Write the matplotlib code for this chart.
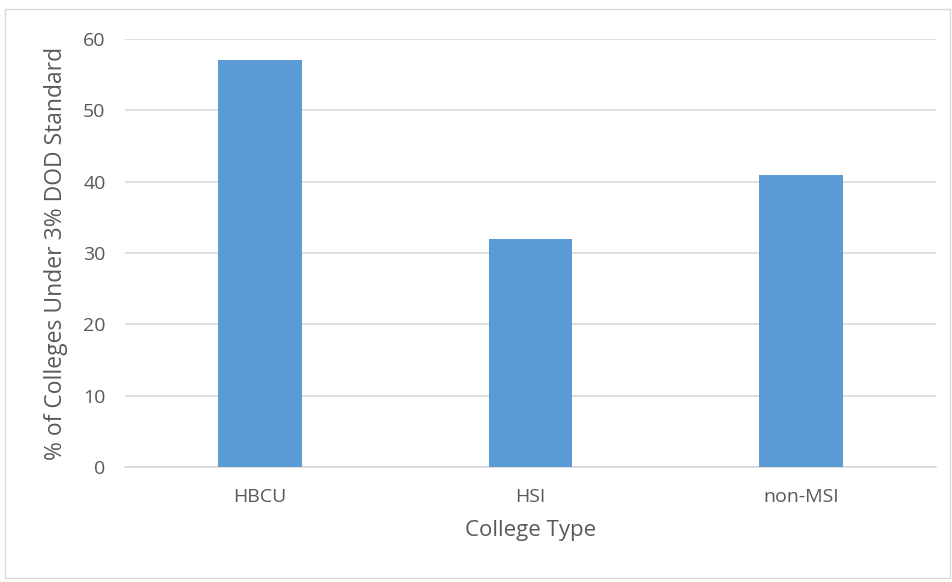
import matplotlib.pyplot as plt
from matplotlib.patches import Rectangle

categories = ["HBCU", "HSI", "non-MSI"]
values = [57, 32, 41]
yticks = [0, 10, 20, 30, 40, 50, 60]

plt.rcParams['font.family'] = ['Open Sans', 'DejaVu Sans']

fig = plt.figure(figsize=(9.53, 5.82), dpi=100)
# light chart-area border
fig.patches.append(Rectangle((5 / 953, 1 - 578 / 582), 945 / 953, 569 / 582,
                             transform=fig.transFigure, fill=False,
                             edgecolor="#d9d9d9", linewidth=1))

ax = fig.add_axes([125 / 953, 1 - 467 / 582, 811 / 953, 428 / 582])
x = range(len(categories))
ax.bar(x, values, width=0.31, color="#5b9bd5", zorder=3)

ax.set_xlim(-0.5, len(categories) - 0.5)
ax.set_ylim(0, 60)
ax.set_yticks(yticks)
ax.set_xticks(list(x))
ax.set_xticklabels(categories)
ax.grid(axis="y", color="#d9d9d9", linewidth=1.2, zorder=0)

for s in ["top", "right", "left"]:
    ax.spines[s].set_visible(False)
ax.spines["bottom"].set_color("#d9d9d9")
ax.spines["bottom"].set_linewidth(1.2)
ax.tick_params(axis="both", length=0, labelsize=14, colors="#595959")
ax.tick_params(axis="y", pad=14)
ax.tick_params(axis="x", pad=15)

ax.set_xlabel("College Type", fontsize=16, color="#595959", labelpad=10)
ax.set_ylabel("% of Colleges Under 3% DOD Standard", fontsize=16.5,
              color="#595959", labelpad=11)

fig.savefig("out.png", dpi=100)
